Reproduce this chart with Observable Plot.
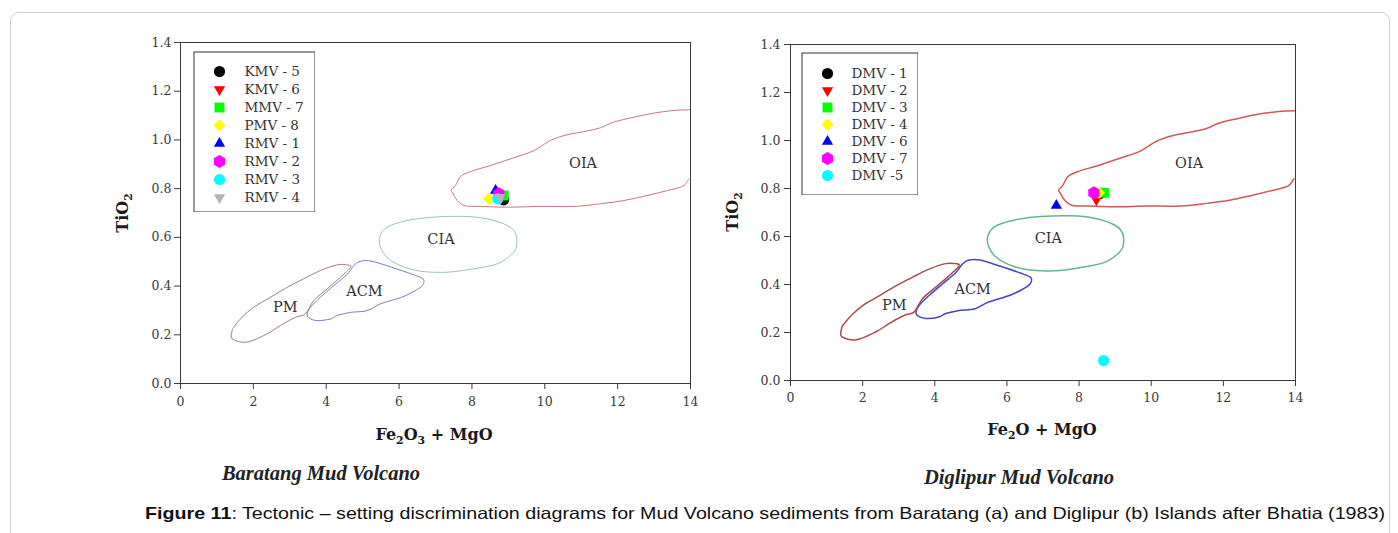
<!DOCTYPE html>
<html>
<head>
<meta charset="utf-8">
<script src="https://cdn.jsdelivr.net/npm/d3@7"></script>
<script src="https://cdn.jsdelivr.net/npm/@observablehq/plot@0.6"></script>
<style>
  html, body { margin: 0; padding: 0; background: #fff; }
  #wrap { position: relative; width: 1398px; height: 533px; overflow: hidden; background: #fff; }
  #card { position: absolute; left: 10px; top: 12px; width: 1378px; height: 600px; border: 1px solid #cdcdcd; border-radius: 9px; }
  .abs { position: absolute; }
  .sub { position: absolute; font-family: "Liberation Serif", serif; font-weight: bold; font-style: italic; font-size: 20.5px; color: #222; white-space: nowrap; transform: translateX(-50%); }
  #caption { position: absolute; left: 145px; top: 504px; font-family: "Liberation Sans", Arial, sans-serif; font-size: 16.5px; color: #111; white-space: nowrap; transform-origin: 0 0; }
</style>
</head>
<body>
<div id="wrap">
  <div id="card"></div>
  <div id="p1" class="abs" style="left:100px; top:30px;"></div>
  <div id="l1" class="abs" style="left:193px; top:51px;"></div>
  <div id="p2" class="abs" style="left:710px; top:30px;"></div>
  <div id="l2" class="abs" style="left:801px; top:52px;"></div>
  <div id="t1" class="sub" style="left:321px; top:462px;">Baratang Mud Volcano</div>
  <div id="t2" class="sub" style="left:1019px; top:466px;">Diglipur Mud Volcano</div>
  <div id="caption"><b>Figure 11</b>: Tectonic – setting discrimination diagrams for Mud Volcano sediments from Baratang (a) and Diglipur (b) Islands after Bhatia (1983)</div>
</div>
<script>
// ---------- axes ----------
const xTicks = [0, 2, 4, 6, 8, 10, 12, 14];
const yTicks = [0, 0.2, 0.4, 0.6, 0.8, 1.0, 1.2, 1.4];

// ---------- tectonic fields (Bhatia 1983), [Fe2O3+MgO, TiO2] ----------
const fieldOIA = [[13.95,0.840],[13.82,0.813],[13.36,0.792],[12.81,0.772],[12.17,0.751],[11.53,0.738],[10.80,0.727],[9.88,0.727],[8.97,0.724],[8.24,0.727],[7.78,0.731],[7.60,0.751],[7.46,0.785],[7.43,0.792],[7.55,0.813],[7.69,0.850],[7.96,0.870],[8.51,0.895],[9.15,0.927],[9.70,0.956],[10.16,0.998],[10.61,1.021],[11.07,1.034],[11.53,1.050],[11.89,1.073],[12.44,1.093],[12.99,1.110],[13.54,1.121],[14.0,1.124]];
const fieldCIA = [[5.47,0.601],[5.67,0.642],[6.22,0.669],[6.95,0.683],[7.78,0.686],[8.42,0.676],[8.97,0.649],[9.20,0.615],[9.22,0.560],[9.06,0.526],[8.69,0.491],[8.05,0.471],[7.32,0.457],[6.59,0.461],[6.04,0.484],[5.67,0.518],[5.49,0.560]];
const fieldACM = [[4.94,0.502],[5.25,0.502],[5.80,0.477],[6.35,0.449],[6.66,0.429],[6.64,0.402],[6.44,0.381],[6.07,0.354],[5.49,0.327],[5.12,0.299],[4.67,0.292],[4.30,0.279],[4.12,0.265],[3.75,0.258],[3.52,0.270],[3.48,0.286],[3.57,0.313],[3.84,0.354],[4.21,0.402],[4.58,0.449],[4.76,0.484]];
const fieldPM = [[1.42,0.218],[1.42,0.183],[1.83,0.170],[2.38,0.204],[2.74,0.238],[3.16,0.272],[3.43,0.286],[3.66,0.341],[4.03,0.389],[4.39,0.436],[4.67,0.477],[4.58,0.487],[4.30,0.487],[3.84,0.464],[3.38,0.430],[2.93,0.395],[2.47,0.354],[2.01,0.313],[1.69,0.272],[1.46,0.231]];
const fieldNames = ["OIA", "CIA", "ACM", "PM"];
const fieldLabelX = [11.05, 7.15, 5.05, 2.88];
const fieldLabelY = [0.905, 0.593, 0.38, 0.312];

// ---------- samples ----------
const baratangNames = ["KMV - 5", "KMV - 6", "MMV - 7", "PMV - 8", "RMV - 1", "RMV - 2", "RMV - 3", "RMV - 4"];
const baratangX = [8.87, 8.80, 8.87, 8.46, 8.65, 8.74, 8.71, 8.77];
const baratangY = [0.754, 0.762, 0.772, 0.758, 0.792, 0.779, 0.758, 0.765];
const baratangSymbols = ["circle", "triangleDown", "square", "diamond2", "triangle", "hexagon", "circle", "triangleDown"];
const baratangFills = ["#000000", "#ff0000", "#00ff00", "#ffff00", "#0000ff", "#ff00ff", "#00ffff", "#b4b4b4"];

const diglipurNames = ["DMV - 1", "DMV - 2", "DMV - 3", "DMV - 4", "DMV - 6", "DMV - 7", "DMV -5"];
const diglipurX = [8.60, 8.48, 8.69, 8.55, 7.37, 8.41, 8.68];
const diglipurY = [0.780, 0.753, 0.782, 0.782, 0.729, 0.782, 0.083];
const diglipurSymbols = ["circle", "triangleDown", "square", "diamond2", "triangle", "hexagon", "circle"];
const diglipurFills = ["#000000", "#ff0000", "#00ff00", "#ffff00", "#0000ff", "#ff00ff", "#00ffff"];

// ---------- symbol helpers ----------
const triangleDown = {
  draw(context, size) {
    const y = -Math.sqrt(size / (Math.sqrt(3) * 3));
    context.moveTo(0, -y * 2);
    context.lineTo(-Math.sqrt(3) * y, y);
    context.lineTo(Math.sqrt(3) * y, y);
    context.closePath();
  }
};
const symbolOf = (name) => name === "triangleDown" ? triangleDown : name;
const symbolR = { circle: 5.6, triangle: 4.2, triangleDown: 4.2, square: 5.6, diamond2: 5.4, hexagon: 5.6 };

const serif = "'DejaVu Serif', serif";

function sampleDots(X, Y, S, F) {
  return X.map((x, i) => Plot.dot([i], {
    x: () => X[i], y: () => Y[i],
    symbol: symbolOf(S[i]), r: symbolR[S[i]], fill: F[i], stroke: "none"
  }));
}

function fieldMarks(colors, sw) {
  const xy = { x: d => d[0], y: d => d[1] };
  return [
    Plot.line(fieldOIA, { ...xy, stroke: colors[0], strokeWidth: sw, curve: "catmull-rom" }),
    Plot.line(fieldCIA, { ...xy, stroke: colors[1], strokeWidth: sw, curve: "cardinal-closed" }),
    Plot.line(fieldACM, { ...xy, stroke: colors[2], strokeWidth: sw, curve: "cardinal-closed" }),
    Plot.line(fieldPM, { ...xy, stroke: colors[3], strokeWidth: sw, curve: "cardinal-closed" }),
    Plot.text(fieldNames, { x: (d, i) => fieldLabelX[i], y: (d, i) => fieldLabelY[i], text: d => d, fontSize: 14.5, fill: "#333", fontFamily: serif })
  ];
}

function mainPlot(opts) {
  return Plot.plot({
    width: opts.width, height: opts.height,
    marginLeft: opts.ml, marginTop: opts.mt, marginRight: opts.mr, marginBottom: opts.mb,
    x: { domain: [0, 14] },
    y: { domain: [0, 1.4] },
    style: { fontFamily: serif, fontSize: "12px", color: "#3a3a3a", background: "transparent", overflow: "visible" },
    marks: [
      ...fieldMarks(opts.colors, opts.sw),
      ...sampleDots(opts.X, opts.Y, opts.S, opts.F),
      Plot.frame({ stroke: "#3a3a3a", strokeWidth: 1 }),
      Plot.axisX({ ticks: xTicks, tickSize: 6, tickPadding: opts.xpad, tickFormat: d => String(d), label: null, fontSize: 12.5 }),
      Plot.axisY({ ticks: yTicks, tickSize: 6, tickPadding: opts.ypad, tickFormat: d => d.toFixed(1), label: null, fontSize: 12.5 })
    ]
  });
}

function richLabel(svg, parts, x, y, rotate, size) {
  const t = d3.select(svg).append("text")
    .attr("transform", `translate(${x},${y})` + (rotate ? " rotate(-90)" : ""))
    .attr("text-anchor", "middle")
    .attr("font-family", serif).attr("font-weight", "bold").attr("font-size", size)
    .attr("fill", "#1a1a1a");
  let shifted = 0;
  parts.forEach(([s, sub]) => {
    const dy = sub ? 4 - shifted : -shifted;
    shifted = sub ? 4 : 0;
    t.append("tspan").attr("dy", dy).attr("font-size", sub ? size * 0.68 : size).text(s);
  });
}

function legendPlot(names, S, F, o) {
  return Plot.plot({
    width: o.width, height: o.height, margin: 0,
    x: { domain: [0, 1], range: [0, o.width], axis: null },
    y: { type: "point", domain: names, range: [o.top, o.height - o.bottom], padding: 0, axis: null },
    style: { fontFamily: serif, fontSize: "13.5px", color: "#333", background: "#fff" },
    marks: [
      Plot.frame({ stroke: "#333", strokeWidth: 1, inset: 0.5 }),
      ...names.map((n, i) => Plot.dot([n], { y: d => d, frameAnchor: "left", dx: o.mx, symbol: symbolOf(S[i]), r: symbolR[S[i]], fill: F[i] })),
      Plot.text(names, { y: d => d, text: d => d, frameAnchor: "left", dx: o.tx, textAnchor: "start", fill: "#333", fontSize: 13.5 })
    ]
  });
}

// ---------- left: Baratang ----------
const p1 = mainPlot({
  width: 610, height: 420, ml: 80, mt: 12, mr: 20, mb: 67, xpad: 8, ypad: 3,
  colors: ["#c47a7a", "#93c8ae", "#7c7cc8", "#a87a7a"], sw: 1,
  X: baratangX, Y: baratangY, S: baratangSymbols, F: baratangFills
});
document.getElementById("p1").appendChild(p1);
richLabel(p1, [["Fe", 0], ["2", 1], ["O", 0], ["3", 1], [" + MgO", 0]], 334, 410, false, 16);
richLabel(p1, [["TiO", 0], ["2", 1]], 28, 183, true, 16);
document.getElementById("l1").appendChild(legendPlot(baratangNames, baratangSymbols, baratangFills,
  { width: 122, height: 161, top: 17, bottom: 13, mx: 26, tx: 51 }));

// ---------- right: Diglipur ----------
const p2 = mainPlot({
  width: 605, height: 420, ml: 80, mt: 14, mr: 20, mb: 70, xpad: 7, ypad: 4,
  colors: ["#d05858", "#66b48e", "#4646c4", "#a84c4c"], sw: 1.5,
  X: diglipurX, Y: diglipurY, S: diglipurSymbols, F: diglipurFills
});
document.getElementById("p2").appendChild(p2);
richLabel(p2, [["Fe", 0], ["2", 1], ["O + MgO", 0]], 332, 405, false, 16);
richLabel(p2, [["TiO", 0], ["2", 1]], 28, 182, true, 16);
document.getElementById("l2").appendChild(legendPlot(diglipurNames, diglipurSymbols, diglipurFills,
  { width: 117, height: 143, top: 18, bottom: 18, mx: 26, tx: 50 }));

// caption width fit to the reference line length
const cap = document.getElementById("caption");
const w = cap.getBoundingClientRect().width;
cap.style.transform = `scaleX(${1240 / w})`;
</script>
</body>
</html>
